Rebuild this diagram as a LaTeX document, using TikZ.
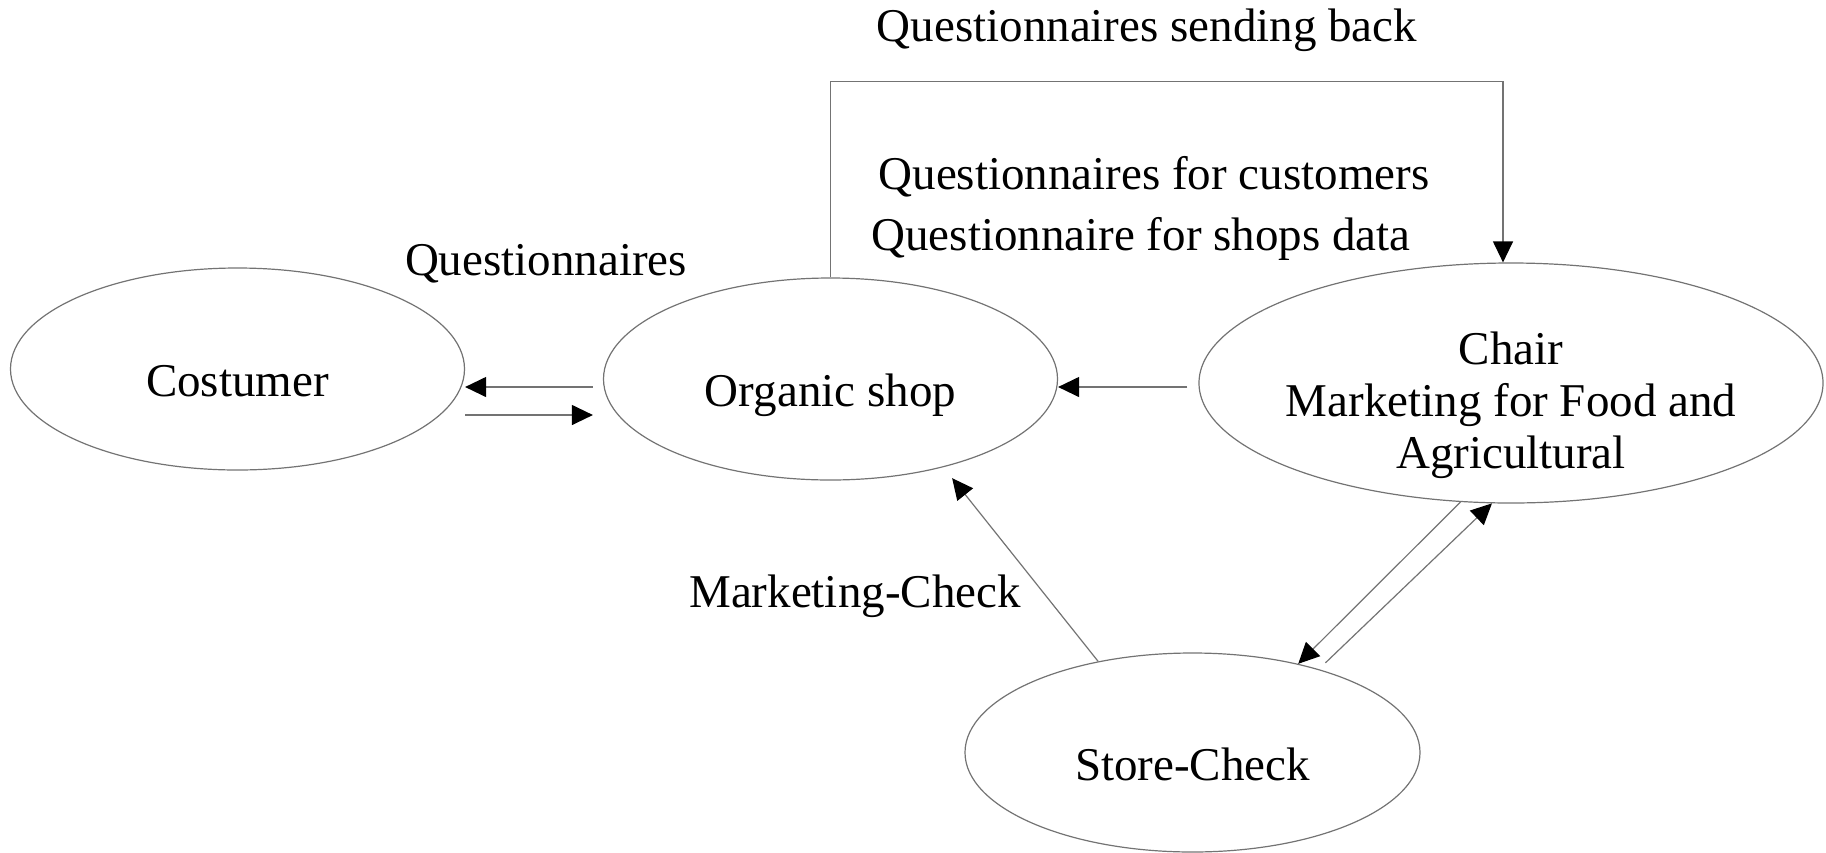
\documentclass[tikz,border=0pt]{standalone}
\usepackage{fontspec}
\setmainfont{Liberation Serif}
\usetikzlibrary{arrows.meta,shapes.geometric}
\tikzset{
  bubble/.style={draw=black!55, line width=1.2pt, ellipse, inner sep=0pt},
  arr/.style={draw=black!55, line width=1.2pt, -{Triangle[length=21pt,width=20pt,color=black]}},
  txt/.style={anchor=base, inner sep=0pt, font=\fontsize{47}{52}\selectfont},
}
\begin{document}
\begin{tikzpicture}[x=1pt,y=-1pt]
\useasboundingbox (0,0) rectangle (1826,852);
% the four ellipses
\node[bubble, minimum width=454pt, minimum height=202pt] (costumer) at (237.5,369) {};
\node[bubble, minimum width=454pt, minimum height=202pt] (organic) at (830.5,379) {};
\node[bubble, minimum width=624pt, minimum height=240pt] (chair) at (1511,383) {};
\node[bubble, minimum width=455pt, minimum height=199pt] (store) at (1192.5,752.5) {};
\node[txt] (costumertxt) at ([yshift=-27pt]costumer.center) {Costumer};
\node[txt] (organictxt) at ([yshift=-27pt]organic.center) {Organic shop};
\node[txt, anchor=center, align=center] (chairtxt) at ([yshift=-22pt]chair.center) {Chair\\Marketing for Food and\\Agricultural};
\node[txt] (storetxt) at ([yshift=-27.5pt]store.center) {Store-Check};
% labels
\node[txt] (sendback) at (1147,41) {Questionnaires sending back};
\node[txt] (qcust) at (1154,189) {Questionnaires for customers};
\node[txt] (qshop) at (1141,250) {Questionnaire for shops data};
\node[txt] (quest) at (546,275) {Questionnaires};
\node[txt] (mcheck) at (855,607) {Marketing-Check};
% connectors
\draw[arr] ([shift={(-10pt,-8pt)}]organic.west) -- ([yshift=-18pt]costumer.east);
\draw[arr] ([yshift=-46pt]costumer.east) -- ([shift={(-10pt,-36pt)}]organic.west);
\draw[arr] ([shift={(-11pt,-4pt)}]chair.west) -- ([yshift=-8pt]organic.east);
\draw[arr] (organic.north) -- ++(0,-196) -| ([xshift=-8pt]chair.north);
\draw[arr, shorten >=14pt] (store.136) -- (organic.322);
\draw[arr] (chair.247) -- (store.40);
\draw[arr] ([shift={(15pt,4pt)}]store.36) -- (chair.261);
\end{tikzpicture}
\end{document}
